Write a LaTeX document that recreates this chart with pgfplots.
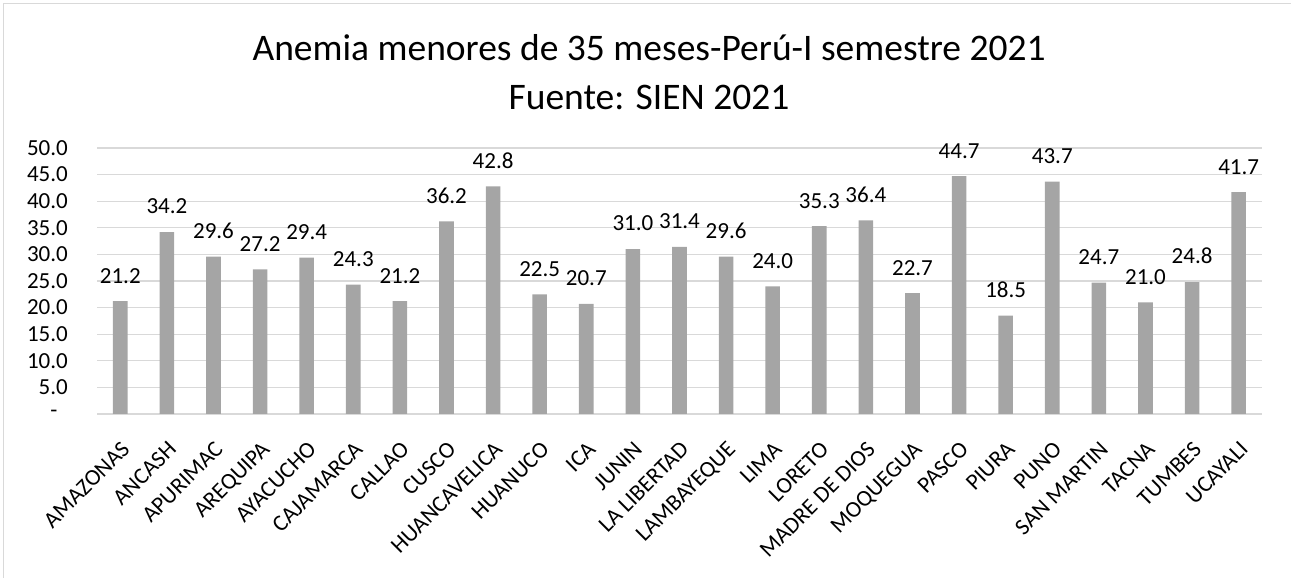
\documentclass[border=0pt]{standalone}
\usepackage{pgfplots}
\pgfplotsset{compat=1.18}
\usepackage{pgfplotstable}
\usepackage{fontspec}
\setmainfont{Carlito}
\definecolor{barc}{HTML}{A5A5A5}
\definecolor{gridc}{HTML}{D9D9D9}
\pgfplotstableread{
x v
0 21.2
1 34.2
2 29.6
3 27.2
4 29.4
5 24.3
6 21.2
7 36.2
8 42.8
9 22.5
10 20.7
11 31.0
12 31.4
13 29.6
14 24.0
15 35.3
16 36.4
17 22.7
18 44.7
19 18.5
20 43.7
21 24.7
22 21.0
23 24.8
24 41.7
}\datatable
\begin{document}
\begin{tikzpicture}[x=1pt,y=1pt]
\useasboundingbox (0,0) rectangle (1291,578);
\draw[gridc, line width=1.5pt] (3.5,0) -- (3.5,574.5) -- (1291,574.5);
\node[font=\fontsize{37.5}{45}\selectfont, inner sep=0pt, anchor=base] at (649,517) {Anemia menores de 35 meses-Perú-I semestre 2021};
\node[font=\fontsize{37.5}{45}\selectfont, inner sep=0pt, anchor=base] at (649,468) {Fuente: SIEN 2021};
\begin{axis}[
  at={(97pt,164pt)}, anchor=south west,
  width=1165pt, height=266pt, scale only axis,
  xmin=-0.5, xmax=24.5, ymin=0, ymax=50,
  ytick={0,5,...,50},
  yticklabels={-\hspace*{10.5pt},5.0,10.0,15.0,20.0,25.0,30.0,35.0,40.0,45.0,50.0},
  xtick={0,...,24},
  xticklabels={AMAZONAS,ANCASH,APURIMAC,AREQUIPA,AYACUCHO,CAJAMARCA,CALLAO,CUSCO,HUANCAVELICA,HUANUCO,ICA,JUNIN,LA LIBERTAD,LAMBAYEQUE,LIMA,LORETO,MADRE DE DIOS,MOQUEGUA,PASCO,PIURA,PUNO,SAN MARTIN,TACNA,TUMBES,UCAYALI},
  major tick length=0pt,
  axis line style={draw=none},
  ymajorgrids, grid style={gridc, line width=1.3pt},
  yticklabel style={font=\fontsize{23}{27}\selectfont, anchor=east, inner sep=0pt, xshift=-29pt},
  xticklabel style={font=\fontsize{23}{27}\selectfont, rotate=45, anchor=north east, inner sep=0pt},
  xticklabel shift=26pt,
  ybar, bar width=14.6pt,
  nodes near coords={\pgfmathprintnumber[fixed,zerofill,precision=1]{\pgfplotspointmeta}},
  every node near coord/.append style={font=\fontsize{23}{27}\selectfont, inner sep=0pt, yshift=17.7pt, /pgf/number format/assume math mode=true},
  clip=false,
]
\addplot[fill=barc, draw=none] table[x=x, y=v] {\datatable};
\end{axis}
\end{tikzpicture}
\end{document}
